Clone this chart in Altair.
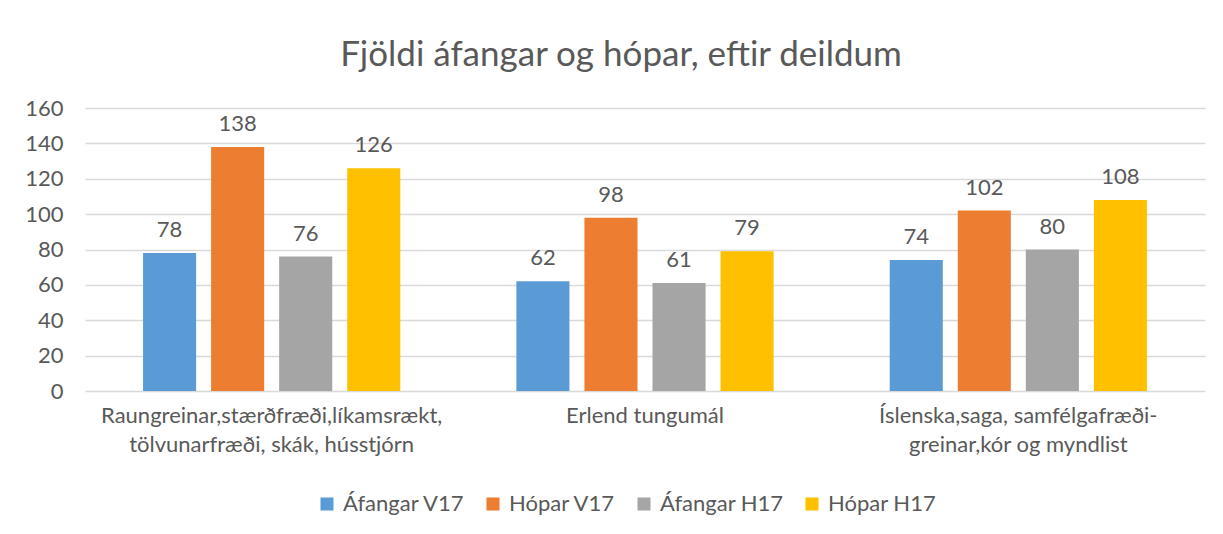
import altair as alt
import pandas as pd

categories = [
    "Raungreinar,stærðfræði,líkamsrækt,\ntölvunarfræði, skák, hússtjórn",
    "Erlend tungumál",
    "Íslenska,saga, samfélgafræði-\ngreinar,kór og myndlist",
]
series = ["Áfangar V17", "Hópar V17", "Áfangar H17", "Hópar H17"]
afangar_v17 = [78, 62, 74]
hopar_v17 = [138, 98, 102]
afangar_h17 = [76, 61, 80]
hopar_h17 = [126, 79, 108]
colors = ["#5B9BD5", "#ED7D31", "#A5A5A5", "#FFC000"]
y_ticks = [0, 20, 40, 60, 80, 100, 120, 140, 160]

values = [afangar_v17, hopar_v17, afangar_h17, hopar_h17]
rows = []
for s, vals in zip(series, values):
    for c, v in zip(categories, vals):
        rows.append({"deild": c, "flokkur": s, "fjoldi": v})
df = pd.DataFrame(rows)

FONT = "Lato"
TXT = "#595959"
FS = 22

base = alt.Chart(df).encode(
    x=alt.X(
        "deild:N",
        sort=categories,
        scale=alt.Scale(paddingInner=0, paddingOuter=0),
        axis=alt.Axis(
            title=None,
            labelAngle=0,
            domain=False,
            ticks=False,
            labelPadding=14,
            labelFontSize=FS,
            labelColor=TXT,
            labelFont=FONT,
            labelLineHeight=29,
            labelLimit=0,
            labelExpr="split(datum.label, '\\n')",
        ),
    ),
    xOffset=alt.XOffset(
        "flokkur:N",
        sort=series,
        scale=alt.Scale(paddingInner=0.22, paddingOuter=0.853),
    ),
    y=alt.Y(
        "fjoldi:Q",
        scale=alt.Scale(domain=[0, 160], nice=False),
        axis=alt.Axis(
            title=None,
            values=y_ticks,
            domain=False,
            ticks=False,
            grid=True,
            gridColor="#D9D9D9",
            gridWidth=1.5,
            labelPadding=22,
            labelFontSize=FS,
            labelColor=TXT,
            labelFont=FONT,
        ),
    ),
)

bars = base.mark_bar().encode(
    color=alt.Color(
        "flokkur:N",
        sort=series,
        scale=alt.Scale(domain=series, range=colors),
        legend=alt.Legend(
            title=None,
            orient="none",
            direction="horizontal",
            legendX=231,
            legendY=385,
            symbolType="square",
            symbolSize=170,
            symbolStrokeWidth=0,
            labelFontSize=FS,
            labelFont=FONT,
            labelColor=TXT,
            labelOffset=5,
            columnPadding=17,
        ),
    )
)

labels = base.mark_text(
    baseline="alphabetic", dy=-16, fontSize=FS, font=FONT, color=TXT
).encode(text="fjoldi:Q")

chart = (
    alt.layer(bars, labels)
    .properties(
        width=1120,
        height=283,
        autosize=alt.AutoSizeParams(type="none"),
        padding={"left": 77, "top": 100, "right": 10, "bottom": 135},
        title=alt.TitleParams(
            "Fjöldi áfangar og hópar, eftir deildum",
            fontSize=35,
            font=FONT,
            fontWeight="normal",
            color=TXT,
            anchor="middle",
            dx=-24,
            offset=24,
        ),
    )
    .configure_view(stroke=None)
)

chart.save("out.html", embed_options={"renderer": "svg", "actions": False})
